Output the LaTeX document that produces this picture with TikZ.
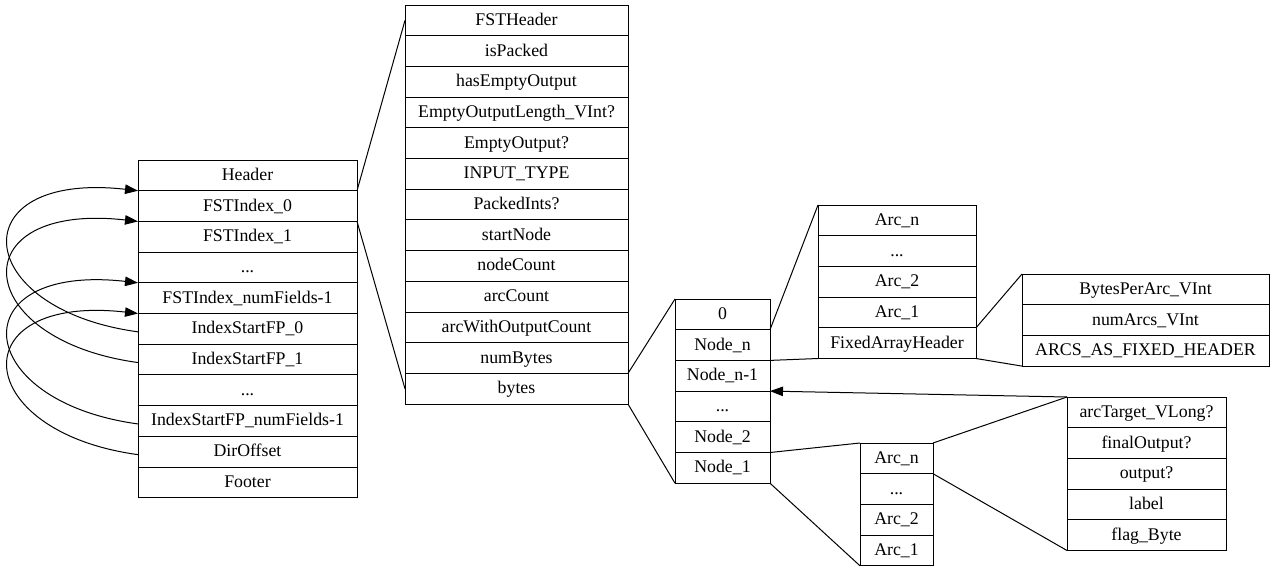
\documentclass[tikz,border=0pt]{standalone}
\usepackage{fontspec}
\setmainfont{Liberation Serif}
\usepackage{tikz}
\usetikzlibrary{arrows.meta,positioning}
\newcommand{\recfont}{\fontsize{17.8}{20}\selectfont}
\tikzset{
  cell/.style={draw, line width=1pt, minimum height=30.7pt, inner sep=0pt, outer sep=0pt,
               font=\recfont, text height=11pt, text depth=1pt},
  filecell/.style={cell, minimum width=219pt},
  fstcell/.style={cell, minimum width=223pt},
  nodecell/.style={cell, minimum width=95pt},
  arccell/.style={cell, minimum width=158pt},
  fixcell/.style={cell, minimum width=247pt},
  larccell/.style={cell, minimum width=73pt},
  fieldcell/.style={cell, minimum width=159pt},
  zoomline/.style={line width=1pt},
  ptr/.style={line width=1pt, -{Triangle[length=13pt,width=9.5pt]}},
}

\begin{document}
\begin{tikzpicture}[x=1pt, y=1pt]
\useasboundingbox (0,0) rectangle (1275,-573);

% --- File layout ---
\node[filecell, anchor=north west] (hdr) at (138,-160) {Header};
\node[filecell, below=0pt of hdr] (fidx0) {FSTIndex\_0};
\node[filecell, below=0pt of fidx0] (fidx1) {FSTIndex\_1};
\node[filecell, below=0pt of fidx1] (fidxdots) {...};
\node[filecell, below=0pt of fidxdots] (fidxn) {FSTIndex\_numFields-1};
\node[filecell, below=0pt of fidxn] (ifp0) {IndexStartFP\_0};
\node[filecell, below=0pt of ifp0] (ifp1) {IndexStartFP\_1};
\node[filecell, below=0pt of ifp1] (ifpdots) {...};
\node[filecell, below=0pt of ifpdots] (ifpn) {IndexStartFP\_numFields-1};
\node[filecell, below=0pt of ifpn] (diroff) {DirOffset};
\node[filecell, below=0pt of diroff] (footer) {Footer};

% --- One FST ---
\node[fstcell, anchor=north west] (fsthdr) at (405,-5) {FSTHeader};
\node[fstcell, below=0pt of fsthdr] (ispacked) {isPacked};
\node[fstcell, below=0pt of ispacked] (hasempty) {hasEmptyOutput};
\node[fstcell, below=0pt of hasempty] (emptylen) {EmptyOutputLength\_VInt?};
\node[fstcell, below=0pt of emptylen] (emptyout) {EmptyOutput?};
\node[fstcell, below=0pt of emptyout] (inputtype) {INPUT\_TYPE};
\node[fstcell, below=0pt of inputtype] (packedints) {PackedInts?};
\node[fstcell, below=0pt of packedints] (startnode) {startNode};
\node[fstcell, below=0pt of startnode] (nodecount) {nodeCount};
\node[fstcell, below=0pt of nodecount] (arccount) {arcCount};
\node[fstcell, below=0pt of arccount] (arcwout) {arcWithOutputCount};
\node[fstcell, below=0pt of arcwout] (numbytes) {numBytes};
\node[fstcell, below=0pt of numbytes] (bytes) {bytes};

% --- Nodes in bytes ---
\node[nodecell, anchor=north west] (nzero) at (675,-299) {0};
\node[nodecell, below=0pt of nzero] (noden) {Node\_n};
\node[nodecell, below=0pt of noden] (nodenm1) {Node\_n-1};
\node[nodecell, below=0pt of nodenm1] (nodedots) {...};
\node[nodecell, below=0pt of nodedots] (node2) {Node\_2};
\node[nodecell, below=0pt of node2] (node1) {Node\_1};

% --- Fixed array node ---
\node[arccell, anchor=north west] (uarcn) at (818,-205) {Arc\_n};
\node[arccell, below=0pt of uarcn] (uarcdots) {...};
\node[arccell, below=0pt of uarcdots] (uarc2) {Arc\_2};
\node[arccell, below=0pt of uarc2] (uarc1) {Arc\_1};
\node[arccell, below=0pt of uarc1] (fixhdr) {FixedArrayHeader};

\node[fixcell, anchor=north west] (bpa) at (1022,-274) {BytesPerArc\_VInt};
\node[fixcell, below=0pt of bpa] (numarcs) {numArcs\_VInt};
\node[fixcell, below=0pt of numarcs] (arcsfixed) {ARCS\_AS\_FIXED\_HEADER};

% --- Plain node ---
\node[larccell, anchor=north west] (larcn) at (860,-443) {Arc\_n};
\node[larccell, below=0pt of larcn] (larcdots) {...};
\node[larccell, below=0pt of larcdots] (larc2) {Arc\_2};
\node[larccell, below=0pt of larc2] (larc1) {Arc\_1};

\node[fieldcell, anchor=north west] (target) at (1067,-397) {arcTarget\_VLong?};
\node[fieldcell, below=0pt of target] (finalout) {finalOutput?};
\node[fieldcell, below=0pt of finalout] (outputf) {output?};
\node[fieldcell, below=0pt of outputf] (arclabel) {label};
\node[fieldcell, below=0pt of arclabel] (flag) {flag\_Byte};

% zoom lines
\draw[zoomline] (fidx0.north east) -- (fsthdr.west);
\draw[zoomline] (fidx0.south east) -- (bytes.west);
\draw[zoomline] (bytes.north east) -- (nzero.north west);
\draw[zoomline] (bytes.south east) -- (node1.south west);
\draw[zoomline] (noden.north east) -- (uarcn.north west);
\draw[zoomline] (noden.south east) -- (fixhdr.south west);
\draw[zoomline] (fixhdr.north east) -- (bpa.north west);
\draw[zoomline] (fixhdr.south east) -- (arcsfixed.south west);
\draw[zoomline] (node1.north east) -- (larcn.north west);
\draw[zoomline] (node1.south east) -- (larc1.south west);
\draw[zoomline] (larcn.north east) -- (target.north west);
\draw[zoomline] (larcn.south east) -- (flag.south west);

% pointers
\draw[ptr] (target.north west) -- (nodenm1.south east);
\draw[ptr] ([yshift=-3pt]ifp0.west) .. controls +(-168,23) and +(-178,20) .. (fidx0.north west);
\draw[ptr] ([yshift=-3pt]ifp1.west) .. controls +(-168,23) and +(-178,20) .. (fidx1.north west);
\draw[ptr] ([yshift=-3pt]ifpn.west) .. controls +(-168,23) and +(-178,20) .. (fidxn.north west);
\draw[ptr] ([yshift=-3pt]diroff.west) .. controls +(-168,23) and +(-178,20) .. (ifp0.north west);

\end{tikzpicture}
\end{document}
